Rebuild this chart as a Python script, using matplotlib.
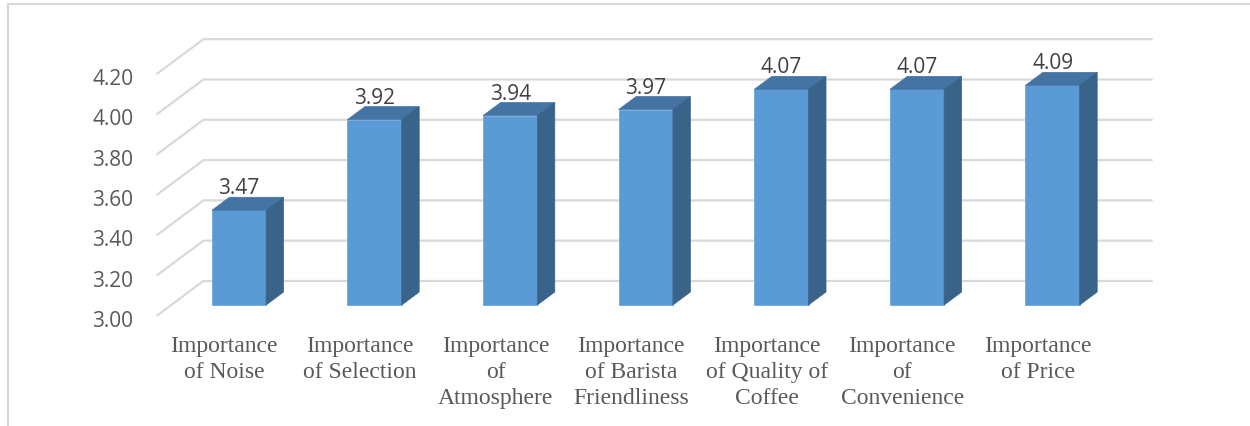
import matplotlib
matplotlib.use("Agg")
import matplotlib.pyplot as plt
from matplotlib.patches import Polygon
from matplotlib.lines import Line2D
import numpy as np

# Survey results: mean importance rating per factor
categories = [
    "Importance\nof Noise",
    "Importance\nof Selection",
    "Importance\nof\nAtmosphere",
    "Importance\nof Barista\nFriendliness",
    "Importance\nof Quality of\nCoffee",
    "Importance\nof\nConvenience",
    "Importance\nof Price",
]
values = [3.47, 3.92, 3.94, 3.97, 4.07, 4.07, 4.09]
y_ticks = [3.00, 3.20, 3.40, 3.60, 3.80, 4.00, 4.20]

FRONT = "#5B9BD5"
TOP = "#4474A4"
SIDE = "#3A6389"
GRID = "#D9D9D9"
TICK_COLOR = "#595959"
LABEL_COLOR = "#404040"

W, H = 1250, 427
fig = plt.figure(figsize=(W / 100, H / 100), dpi=100)
ax = fig.add_axes([0, 0, 1, 1])

# pixel scale of one category step and one value unit
PX_X = 135.6
PX_V = 201.5
X0_PX, BASE_PX = 239, 306
ax.set_xlim(-X0_PX / PX_X, (W - X0_PX) / PX_X)
ax.set_ylim(3 + (BASE_PX - H) / PX_V, 3 + BASE_PX / PX_V)
ax.axis("off")

# oblique depth projection (full floor depth in data units)
DX = 47 / PX_X
DV = 35 / PX_V
D0, D1 = 0.314, 0.686   # front / back depth of the bars
BASE = y_ticks[0]


def proj(x, v, d):
    return x + (d - D0) * DX, v + (d - D0) * DV


n = len(values)
xs = np.arange(n)
left, right = -0.5, n - 0.5

# back wall gridlines with the left side wall edges
for v in y_ticks:
    p0 = proj(left, v, 0)
    p1 = proj(left, v, 1)
    p2 = proj(right, v, 1)
    ax.add_line(Line2D([p0[0], p1[0], p2[0]], [p0[1], p1[1], p2[1]],
                       color=GRID, lw=1.6, zorder=1,
                       solid_capstyle="butt", solid_joinstyle="miter"))
    tx, ty = proj(left, v, 0)
    ax.text(tx - 23 / PX_X, ty - 10 / PX_V, f"{v:.2f}", ha="right",
            va="baseline", fontsize=15, family="Open Sans", color=TICK_COLOR)

# 3D columns: front face, top and right side
bw = 0.4
vals = np.array(values)
ax.bar(xs, vals - BASE, bottom=BASE, width=bw, color=FRONT,
       edgecolor="#6FA8DC", linewidth=0.6, zorder=3)
for x, v in zip(xs, vals):
    xl, xr = x - bw / 2, x + bw / 2
    top = [proj(xl, v, D0), proj(xr, v, D0), proj(xr, v, D1), proj(xl, v, D1)]
    side = [proj(xr, BASE, D0), proj(xr, v, D0), proj(xr, v, D1), proj(xr, BASE, D1)]
    ax.add_patch(Polygon(top, closed=True, facecolor=TOP, edgecolor=TOP,
                         lw=0.5, zorder=3))
    ax.add_patch(Polygon(side, closed=True, facecolor=SIDE, edgecolor=SIDE,
                         lw=0.5, zorder=3))
    ax.text(x, v + 17 / PX_V, f"{v:.2f}", ha="center", va="baseline",
            fontsize=15, family="Open Sans", color=LABEL_COLOR, zorder=4)

# category labels on the front plane
for x, label in zip(xs, categories):
    cx, _ = proj(x, BASE, 0)
    for k, line in enumerate(label.split("\n")):
        ypx = 352 + 26 * k
        ax.text(cx, 3 + (BASE_PX - ypx) / PX_V, line, ha="center",
                va="baseline", fontsize=17, family="Liberation Serif",
                color=TICK_COLOR)

# chart area frame (top and left edges)
fig.add_artist(Line2D([8 / W, 8 / W, 1], [0, 1 - 5 / H, 1 - 5 / H],
                      transform=fig.transFigure, color=GRID, lw=1.6))

fig.savefig("out.png", dpi=100)
